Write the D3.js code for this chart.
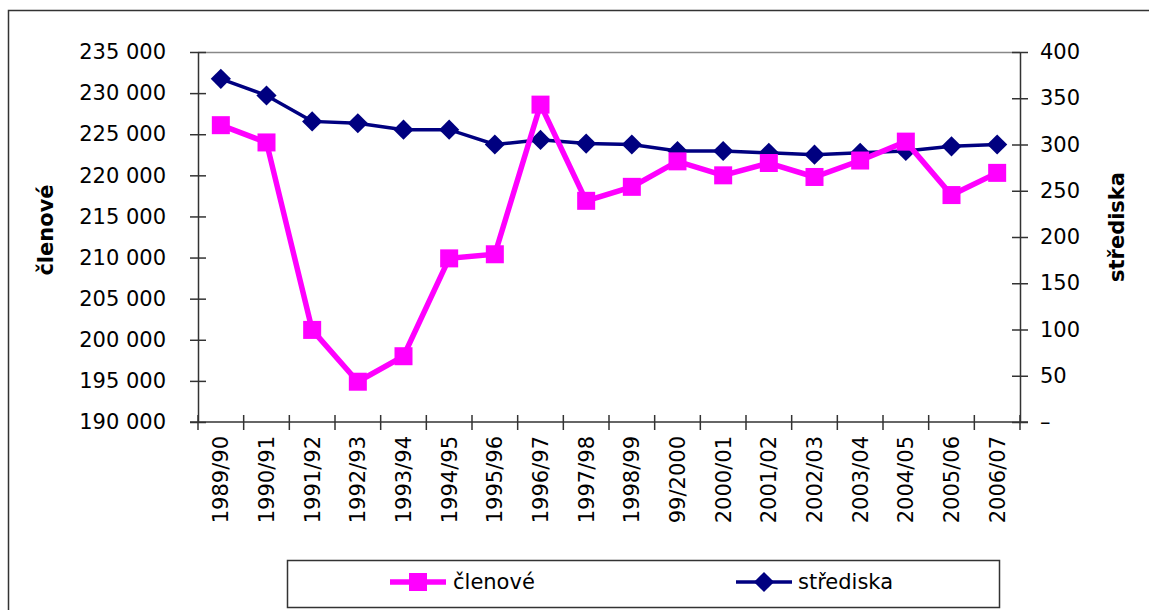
<!DOCTYPE html>
<html>
<head>
<meta charset="utf-8">
<script src="https://cdn.jsdelivr.net/npm/d3@7"></script>
<style>
  body { margin: 0; background: #fff; }
  svg text { font-family: "DejaVu Sans", Verdana, sans-serif; fill: #000; }
</style>
</head>
<body>
<svg width="1149" height="610"></svg>
<script>
// data
var seasons = ["1989/90", "1990/91", "1991/92", "1992/93", "1993/94", "1994/95",
  "1995/96", "1996/97", "1997/98", "1998/99", "99/2000", "2000/01", "2001/02",
  "2002/03", "2003/04", "2004/05", "2005/06", "2006/07"];
var clenove = [226100, 224000, 201200, 194900, 198000, 209900, 210400, 228600,
  216900, 218600, 221700, 220000, 221500, 219800, 221800, 224100, 217600, 220300];
var strediska = [371, 353, 325, 323, 316, 316, 300, 305, 301, 300, 293, 293,
  291, 289, 291, 293, 298, 300];
var leftTicks = [190000, 195000, 200000, 205000, 210000, 215000, 220000, 225000, 230000, 235000];
var rightTicks = [0, 50, 100, 150, 200, 250, 300, 350, 400];

var svg = d3.select("svg"),
  width = +svg.attr("width"),
  height = +svg.attr("height");

var plot = { left: 198, right: 1020, top: 52, bottom: 422 };
var fontSize = "21px";

// outer chart frame (runs off the bottom and right of the picture)
svg.append("rect")
  .attr("x", 8.5).attr("y", 10.5)
  .attr("width", 1200).attr("height", 700)
  .attr("fill", "none")
  .attr("stroke", "#333")
  .attr("stroke-width", 1.5);

var x = d3.scaleBand()
  .domain(seasons)
  .range([plot.left, plot.right]);

var yLeft = d3.scaleLinear()
  .domain([190000, 235000])
  .range([plot.bottom, plot.top]);

var yRight = d3.scaleLinear()
  .domain([0, 400])
  .range([plot.bottom, plot.top]);

var fmtLeft = function(d) { return d3.format(",")(d).replace(/,/g, " "); };
var fmtRight = function(d) { return d === 0 ? "–" : d; };

// top border of the plot area
svg.append("line")
  .attr("x1", plot.left).attr("x2", plot.right)
  .attr("y1", plot.top + 0.5).attr("y2", plot.top + 0.5)
  .attr("stroke", "#888").attr("stroke-width", 1.5);

// left axis
var gLeft = svg.append("g")
  .attr("transform", "translate(" + plot.left + ",0)")
  .call(d3.axisLeft(yLeft).tickValues(leftTicks).tickFormat(fmtLeft)
    .tickSizeOuter(0).tickSizeInner(8).tickPadding(24));
gLeft.selectAll(".tick line").attr("x1", 8);

// right axis
var gRight = svg.append("g")
  .attr("transform", "translate(" + plot.right + ",0)")
  .call(d3.axisRight(yRight).tickValues(rightTicks).tickFormat(fmtRight)
    .tickSizeOuter(0).tickSizeInner(8).tickPadding(12));
gRight.selectAll(".tick line").attr("x1", -8);

// bottom axis: ticks sit on the band edges
var gBottom = svg.append("g")
  .attr("transform", "translate(0," + plot.bottom + ")");
gBottom.append("line")
  .attr("x1", plot.left - 8).attr("x2", plot.right + 8)
  .attr("stroke", "#333").attr("stroke-width", 1.5);
gBottom.selectAll(".edge")
  .data(seasons.concat(["end"]))
  .enter().append("line")
  .attr("class", "edge")
  .attr("x1", function(d, i) { return plot.left + i * x.step(); })
  .attr("x2", function(d, i) { return plot.left + i * x.step(); })
  .attr("y1", -7).attr("y2", 8)
  .attr("stroke", "#333").attr("stroke-width", 1.5);
gBottom.selectAll(".lbl")
  .data(seasons)
  .enter().append("text")
  .attr("class", "lbl")
  .attr("transform", function(d) {
    return "translate(" + (x(d) + x.bandwidth() / 2) + ",14) rotate(-90)";
  })
  .attr("dy", "0.36em")
  .attr("text-anchor", "end")
  .style("font-size", fontSize)
  .text(function(d) { return d; });

[gLeft, gRight].forEach(function(g) {
  g.select(".domain").attr("stroke", "#333").attr("stroke-width", 1.5);
  g.selectAll(".tick line").attr("stroke", "#333").attr("stroke-width", 1.5);
  g.selectAll("text").style("font-size", fontSize).attr("fill", "#000");
});

// axis titles
svg.append("text")
  .attr("transform", "translate(46,230) rotate(-90)")
  .attr("dy", "0.35em")
  .attr("text-anchor", "middle")
  .style("font-size", "21px")
  .style("font-weight", "bold")
  .text("členové");

svg.append("text")
  .attr("transform", "translate(1117,227) rotate(-90)")
  .attr("dy", "0.35em")
  .attr("text-anchor", "middle")
  .style("font-size", "21px")
  .style("font-weight", "bold")
  .text("střediska");

var cx = function(d, i) { return x(seasons[i]) + x.bandwidth() / 2; };

// střediska series (navy, diamonds)
var lineRight = d3.line()
  .x(cx)
  .y(function(d) { return yRight(d); });

svg.append("path")
  .datum(strediska)
  .attr("fill", "none")
  .attr("stroke", "#000080")
  .attr("stroke-width", 3.5)
  .attr("d", lineRight);

var diamond = d3.symbol().type(d3.symbolDiamond2).size(260);
svg.selectAll(".dia")
  .data(strediska)
  .enter().append("path")
  .attr("class", "dia")
  .attr("d", diamond)
  .attr("transform", function(d, i) { return "translate(" + cx(d, i) + "," + yRight(d) + ")"; })
  .attr("fill", "#000080");

// členové series (magenta, squares)
var lineLeft = d3.line()
  .x(cx)
  .y(function(d) { return yLeft(d); });

svg.append("path")
  .datum(clenove)
  .attr("fill", "none")
  .attr("stroke", "#ff00ff")
  .attr("stroke-width", 5.5)
  .attr("d", lineLeft);

svg.selectAll(".sq")
  .data(clenove)
  .enter().append("rect")
  .attr("class", "sq")
  .attr("x", function(d, i) { return cx(d, i) - 9; })
  .attr("y", function(d) { return yLeft(d) - 9; })
  .attr("width", 18).attr("height", 18)
  .attr("fill", "#ff00ff");

// legend
var gKey = svg.append("g");
gKey.append("rect")
  .attr("x", 287.5).attr("y", 560.5)
  .attr("width", 712).attr("height", 47)
  .attr("fill", "#fff")
  .attr("stroke", "#333")
  .attr("stroke-width", 1.5);

var legY = 582;
gKey.append("line")
  .attr("x1", 390).attr("x2", 446).attr("y1", legY).attr("y2", legY)
  .attr("stroke", "#ff00ff").attr("stroke-width", 5.5);
gKey.append("rect")
  .attr("x", 409).attr("y", legY - 9).attr("width", 18).attr("height", 18)
  .attr("fill", "#ff00ff");
gKey.append("text")
  .attr("x", 453).attr("y", legY).attr("dy", "0.35em")
  .style("font-size", fontSize)
  .text("členové");

gKey.append("line")
  .attr("x1", 736).attr("x2", 792).attr("y1", legY).attr("y2", legY)
  .attr("stroke", "#000080").attr("stroke-width", 3.5);
gKey.append("path")
  .attr("d", diamond)
  .attr("transform", "translate(764," + legY + ")")
  .attr("fill", "#000080");
gKey.append("text")
  .attr("x", 798).attr("y", legY).attr("dy", "0.35em")
  .style("font-size", fontSize)
  .text("střediska");
</script>
</body>
</html>
